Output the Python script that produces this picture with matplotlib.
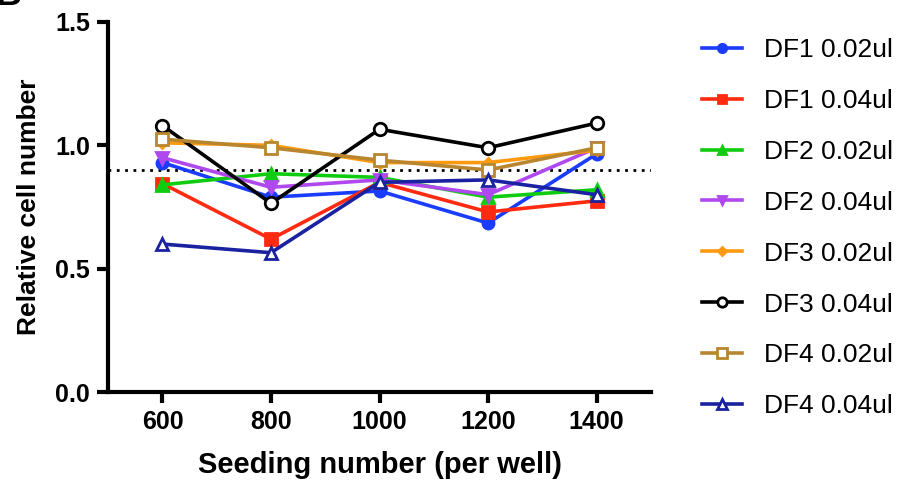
import matplotlib.pyplot as plt

plt.rcParams['font.family'] = ['Liberation Sans', 'DejaVu Sans']
plt.rcParams['font.weight'] = 'bold'

# data
seeding = [600, 800, 1000, 1200, 1400]
labels = ['DF1 0.02ul', 'DF1 0.04ul', 'DF2 0.02ul', 'DF2 0.04ul',
          'DF3 0.02ul', 'DF3 0.04ul', 'DF4 0.02ul', 'DF4 0.04ul']
df1_002 = [0.93, 0.79, 0.815, 0.685, 0.965]
df1_004 = [0.845, 0.62, 0.85, 0.73, 0.775]
df2_002 = [0.84, 0.885, 0.87, 0.79, 0.82]
df2_004 = [0.95, 0.83, 0.86, 0.80, 0.99]
df3_002 = [1.01, 1.0, 0.93, 0.93, 0.98]
df3_004 = [1.08, 0.765, 1.065, 0.99, 1.09]
df4_002 = [1.025, 0.99, 0.94, 0.90, 0.99]
df4_004 = [0.60, 0.565, 0.85, 0.86, 0.80]
ref_line = 0.9

series = [df1_002, df1_004, df2_002, df2_004, df3_002, df3_004, df4_002, df4_004]
colors = ['#1a3cff', '#ff2a10', '#10cc10', '#b048f0', '#ff9a10', '#000000', '#b8862e', '#1a22a0']
markers = ['o', 's', '^', 'v', 'D', 'o', 's', '^']
filled = [True, True, True, True, True, False, False, False]
msizes = [8, 8, 8, 8, 5, 9, 9, 9]

fig = plt.figure(figsize=(9.09, 4.86), dpi=100)
ax = fig.add_axes([0.119, 0.193, 0.597, 0.762])

ax.axhline(ref_line, color='black', linestyle=(0, (1, 2)), linewidth=2, zorder=1)

for vals, lab, c, m, f, ms in zip(series, labels, colors, markers, filled, msizes):
    ax.plot(seeding, vals, color=c, marker=m, markersize=ms, linewidth=2.6,
            markerfacecolor=c if f else 'white', markeredgecolor=c,
            markeredgewidth=2, label=lab, zorder=3)

ax.set_xlim(500, 1500)
ax.set_ylim(0, 1.5)
ax.set_xticks(seeding)
ax.set_yticks([0.0, 0.5, 1.0, 1.5])
ax.set_yticklabels(['0.0', '0.5', '1.0', '1.5'])
ax.spines['top'].set_visible(False)
ax.spines['right'].set_visible(False)
ax.spines['left'].set_linewidth(3)
ax.spines['bottom'].set_linewidth(3)
ax.tick_params(direction='out', width=3, length=8, labelsize=18, pad=5)
ax.set_xlabel('Seeding number (per well)', fontsize=21, fontweight='bold', labelpad=12)
ax.set_ylabel('Relative cell number', fontsize=19, fontweight='bold', labelpad=10)

leg = ax.legend(loc='upper left', bbox_to_anchor=(1.075, 0.985), frameon=False,
                fontsize=19, labelspacing=1.02, handlelength=1.5, handletextpad=0.85,
                markerscale=0.75, borderaxespad=0)
for t in leg.get_texts():
    t.set_fontweight('normal')

fig.text(-0.005, 1.045, 'B', fontsize=26, fontweight='bold', va='top')

plt.savefig('out.png', dpi=100)
